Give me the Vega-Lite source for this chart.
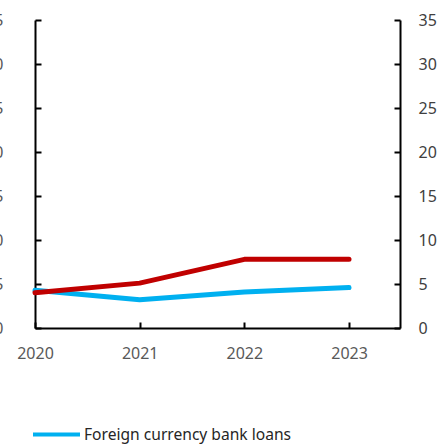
{
  "$schema": "https://vega.github.io/schema/vega-lite/v6.json",
  "width": 365,
  "height": 308,
  "autosize": {"type": "none"},
  "padding": {"left": 35, "top": 20, "right": 46, "bottom": 117},
  "background": "white",
  "config": {
    "view": {"stroke": null},
    "font": "Noto Sans",
    "axis": {
      "domainColor": "black",
      "domainWidth": 2,
      "tickColor": "black",
      "tickWidth": 2,
      "tickSize": -6,
      "labelColor": "#595959",
      "labelFontSize": 16,
      "labelFont": "Noto Sans",
      "labelFlush": false,
      "grid": false,
      "title": null
    }
  },
  "data": {
    "values": [
      {"year": 2020, "series": "Foreign currency bank loans", "value": 4.3},
      {"year": 2021, "series": "Foreign currency bank loans", "value": 3.2},
      {"year": 2022, "series": "Foreign currency bank loans", "value": 4.1},
      {"year": 2023, "series": "Foreign currency bank loans", "value": 4.6},
      {"year": 2020, "series": "Domestic currency bank loans", "value": 4.0},
      {"year": 2021, "series": "Domestic currency bank loans", "value": 5.1},
      {"year": 2022, "series": "Domestic currency bank loans", "value": 7.8},
      {"year": 2023, "series": "Domestic currency bank loans", "value": 7.8}
    ]
  },
  "encoding": {
    "x": {
      "field": "year",
      "type": "quantitative",
      "scale": {"domain": [2020, 2023.487], "nice": false, "zero": false},
      "axis": {"values": [2020, 2021, 2022, 2023], "format": "d", "labelPadding": 23, "labelFlush": false, "title": null}
    },
    "color": {
      "field": "series",
      "type": "nominal",
      "scale": {"domain": ["Foreign currency bank loans", "Domestic currency bank loans"], "range": ["#00B0F0", "#C00000"]},
      "legend": {
        "orient": "none",
        "legendX": -4,
        "legendY": 389,
        "values": ["Foreign currency bank loans"],
        "symbolType": "stroke",
        "symbolSize": 2209,
        "symbolStrokeWidth": 4,
        "symbolOpacity": 1,
        "labelFontSize": 15.6,
        "labelFont": "Noto Sans",
        "labelColor": "#262626",
        "labelLimit": 400,
        "labelOffset": 2,
        "title": null,
        "padding": 0
      }
    }
  },
  "layer": [
    {
      "transform": [{"filter": "datum.series === 'Foreign currency bank loans'"}],
      "mark": {"type": "line", "strokeWidth": 5, "strokeCap": "round", "strokeJoin": "round"},
      "encoding": {
        "y": {
          "field": "value",
          "type": "quantitative",
          "scale": {"domain": [0, 35], "nice": false},
          "axis": {"orient": "left", "values": [0, 5, 10, 15, 20, 25, 30, 35], "labelPadding": 38, "title": null}
        }
      }
    },
    {
      "transform": [{"filter": "datum.series === 'Domestic currency bank loans'"}],
      "mark": {"type": "line", "strokeWidth": 5, "strokeCap": "round", "strokeJoin": "round"},
      "encoding": {
        "y": {
          "field": "value",
          "type": "quantitative",
          "scale": {"domain": [0, 35], "nice": false},
          "axis": {"orient": "right", "values": [0, 5, 10, 15, 20, 25, 30, 35], "labelPadding": 24, "labelColor": "#404040", "title": null}
        }
      }
    }
  ],
  "resolve": {"axis": {"y": "independent"}}
}
